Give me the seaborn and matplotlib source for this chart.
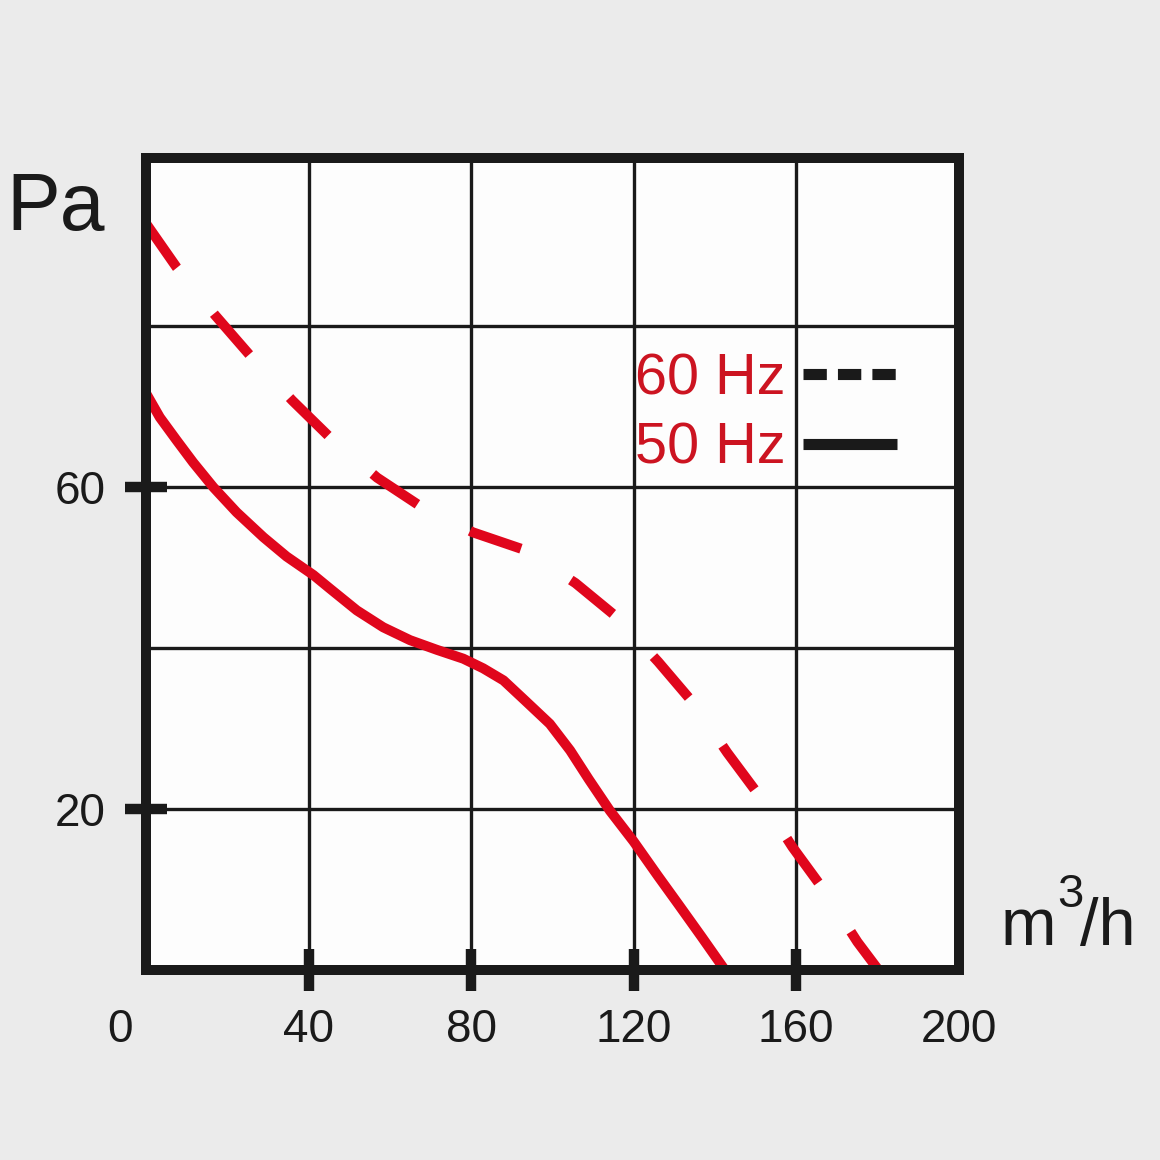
import matplotlib
matplotlib.use("Agg")
import matplotlib.pyplot as plt
import seaborn as sns
from matplotlib.lines import Line2D

# ---- data ----
flow_50 = [0, 3.4, 7.6, 11.6, 16.6, 22.3, 28.9, 34.6, 41.2, 45.3, 51.9, 58.4, 65.0,
           71.6, 78.1, 83.0, 88.0, 93.3, 99.4, 104.4, 109.0, 114.2, 120.0, 126.0,
           131.0, 136.8, 142.5]
pa_50 = [71.7, 68.7, 65.8, 63.1, 60.0, 56.9, 53.8, 51.4, 49.1, 47.4, 44.7, 42.6, 41.0,
         39.8, 38.7, 37.5, 36.0, 33.5, 30.6, 27.3, 23.7, 19.8, 16.0, 11.7,
         8.2, 4.1, 0.0]

flow_60 = [0, 7.6, 17.0, 25.6, 36.0, 45.3, 56.9, 68.0, 80.5, 93.3, 105.7, 116.3,
           126.1, 134.7, 143.1, 151.2, 159.1, 167.2, 175.1, 180.3]
pa_60 = [92.8, 87.3, 81.4, 76.4, 70.8, 66.2, 61.2, 57.5, 54.4, 52.2, 48.1, 43.7,
         38.3, 33.2, 27.0, 21.5, 15.3, 9.7, 3.5, 0.0]

x_ticks = [0, 40, 80, 120, 160, 200]
x_tick_labels = ["", "40", "80", "120", "160", "200"]
y_ticks = [20, 40, 60, 80]
y_tick_labels = ["20", "", "60", ""]
legend_labels = ["60 Hz", "50 Hz"]
y_unit = "Pa"

# ---- style ----
RED = "#e0061c"
TEXT_RED = "#cc1421"
INK = "#1a1a1a"
W = H = 1160.0

sns.set_style("white")
plt.rcParams["font.family"] = ["Liberation Sans", "DejaVu Sans"]

fig = plt.figure(figsize=(11.6, 11.6), dpi=100, facecolor="#ebebeb")
ax = fig.add_axes([146 / W, 1 - 970 / H, 812.5 / W, 812.5 / H])
ax.set_facecolor("#fdfdfd")

sns.lineplot(x=flow_50, y=pa_50, ax=ax, color=RED, linewidth=7.2, sort=False,
             solid_capstyle="butt", solid_joinstyle="round")
sns.lineplot(x=flow_60, y=pa_60, ax=ax, color=RED, linewidth=7.2, sort=False,
             linestyle=(0, (5.4, 5.9)), dash_capstyle="butt", dash_joinstyle="round")

ax.set_xlim(0, 200)
ax.set_ylim(0, 101)
ax.set_xlabel("")
ax.set_ylabel("")

ax.set_xticks(x_ticks)
ax.set_xticklabels(x_tick_labels)
ax.set_yticks(y_ticks)
ax.set_yticklabels(y_tick_labels)

ax.tick_params(bottom=True, left=True, top=False, right=False)
ax.tick_params(direction="inout", length=30.5, width=7.5, color=INK,
               labelsize=33, labelcolor=INK)
ax.tick_params(axis="x", pad=12)
ax.tick_params(axis="y", pad=14)

for t in ax.xaxis.get_major_ticks():
    if t.get_loc() in (0, 200):
        t.tick1line.set_visible(False)
for t in ax.yaxis.get_major_ticks():
    if t.get_loc() in (40, 80):
        t.tick1line.set_visible(False)

ax.grid(True, color=INK, linewidth=2.4)
ax.set_axisbelow(True)

for s in ax.spines.values():
    s.set_visible(True)
    s.set_linewidth(7.2)
    s.set_color(INK)

# "0" label sits left of the corner
ax.annotate("0", xy=(0, 0), xycoords="data", xytext=(-18.7, -27.25),
            textcoords="offset points", ha="center", va="top", fontsize=33, color=INK)

# axis units
fig.text(6 / W, 1 - 230 / H, y_unit, fontsize=58, ha="left", va="baseline", color=INK)
fig.text(1001 / W, 1 - 945 / H, "m", fontsize=48, ha="left", va="baseline", color=INK)
fig.text(1057 / W, 1 - 907 / H, "3", fontsize=34, ha="left", va="baseline", color=INK)
fig.text(1080 / W, 1 - 945 / H, "/h", fontsize=48, ha="left", va="baseline", color=INK)

# legend
handles = [
    Line2D([], [], color=INK, lw=8, linestyle=(0, (2.1, 1.0)), dash_capstyle="butt"),
    Line2D([], [], color=INK, lw=8, solid_capstyle="butt"),
]
ax.legend(handles, legend_labels, loc="center left",
          bbox_to_anchor=(635 / W, 1 - 414 / H), bbox_transform=fig.transFigure,
          frameon=False, markerfirst=False, fontsize=41.5, labelcolor=TEXT_RED,
          handlelength=1.63, handletextpad=0.3, labelspacing=0.27,
          borderpad=0, borderaxespad=0)

fig.savefig("out.png", dpi=100, facecolor=fig.get_facecolor())
